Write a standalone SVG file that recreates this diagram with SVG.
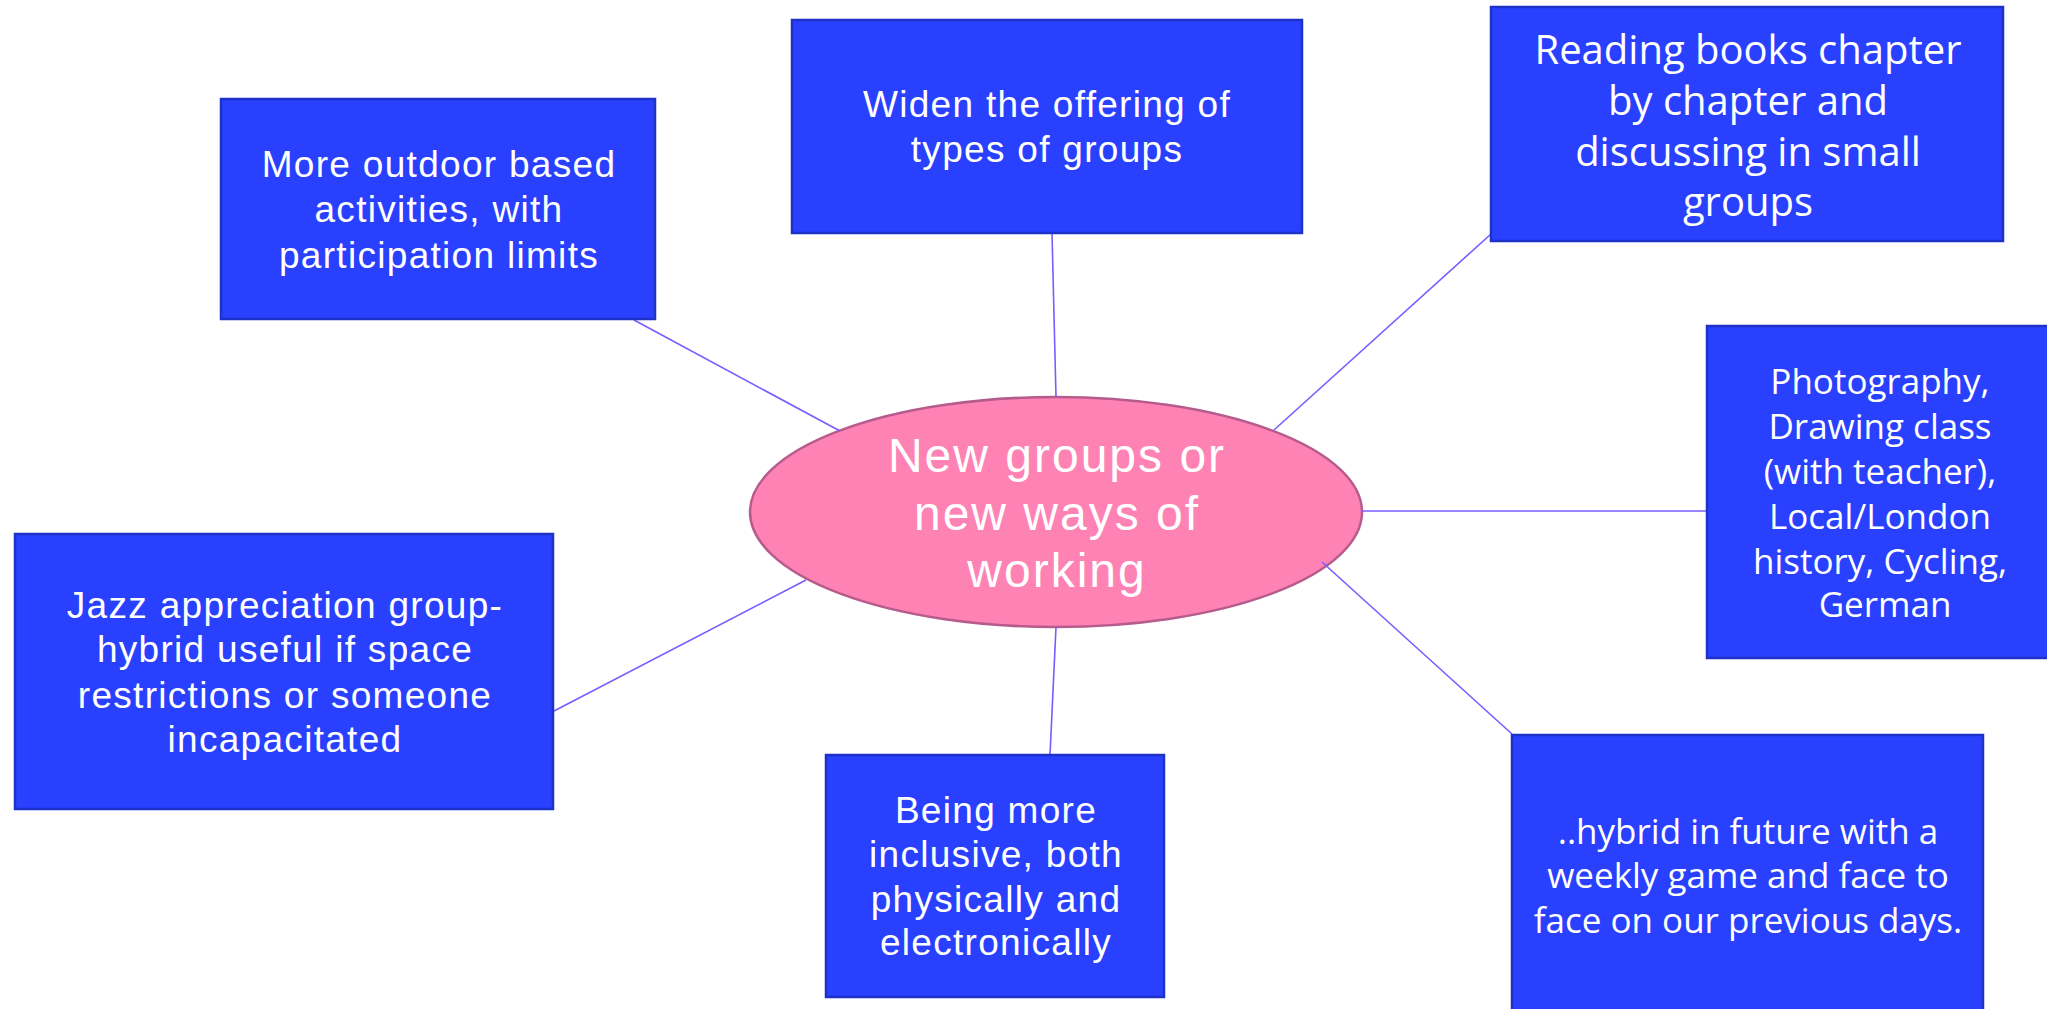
<svg xmlns="http://www.w3.org/2000/svg" width="2047" height="1009" viewBox="0 0 2047 1009">
<style>
.box{fill:#2940FF;stroke:#1F32C8;stroke-width:2.5}
.hub{fill:#FF82B4;stroke:#B65C8C;stroke-width:2.5}
.conn{stroke:#7A5CFF;stroke-width:1.6;fill:none}
.ta{font-family:"Liberation Sans",Arial,sans-serif;font-size:37px;letter-spacing:1.3px;fill:#FFFFFF;text-anchor:middle}
.tb{font-family:"Open Sans","Noto Sans",sans-serif;font-size:35px;fill:#FFFFFF;text-anchor:middle}
.hubt{font-family:"Liberation Sans",Arial,sans-serif;font-size:48px;letter-spacing:2px;fill:#FFFFFF;text-anchor:middle}
</style>
<rect width="2047" height="1009" fill="#FFFFFF"/>
<g id="hub">
<ellipse class="hub" cx="1056" cy="512" rx="306" ry="115"/>
<text class="hubt"><tspan x="1057" y="472">New groups or</tspan><tspan x="1057" y="530">new ways of</tspan><tspan x="1057" y="587">working</tspan></text>
</g>
<g id="connectors">
<line class="conn" x1="634" y1="320" x2="840" y2="431"/>
<line class="conn" x1="1052" y1="233" x2="1056" y2="397"/>
<line class="conn" x1="1491" y1="234" x2="1274" y2="430"/>
<line class="conn" x1="1362" y1="511" x2="1707" y2="511"/>
<line class="conn" x1="1322" y1="562" x2="1512" y2="734"/>
<line class="conn" x1="1056" y1="627" x2="1050" y2="755"/>
<line class="conn" x1="806" y1="580" x2="554" y2="711"/>
</g>
<g id="outdoor">
<rect class="box" x="221" y="99" width="434" height="220"/>
<text class="ta"><tspan x="439" y="177">More outdoor based</tspan><tspan x="439" y="222">activities, with</tspan><tspan x="439" y="268">participation limits</tspan></text>
</g>
<g id="widen">
<rect class="box" x="792" y="20" width="510" height="213"/>
<text class="ta"><tspan x="1047" y="117">Widen the offering of</tspan><tspan x="1047" y="162">types of groups</tspan></text>
</g>
<g id="reading">
<rect class="box" x="1491" y="7" width="512" height="234"/>
<text class="tb" style="font-size:40px"><tspan x="1748" y="64">Reading books chapter</tspan><tspan x="1748" y="115">by chapter and</tspan><tspan x="1748" y="166">discussing in small</tspan><tspan x="1748" y="216">groups</tspan></text>
</g>
<g id="photography">
<rect class="box" x="1707" y="326" width="350" height="332"/>
<text class="tb"><tspan x="1880" y="394">Photography,</tspan><tspan x="1880" y="439">Drawing class</tspan><tspan x="1880" y="484">(with teacher),</tspan><tspan x="1880" y="529">Local/London</tspan><tspan x="1880" y="574">history, Cycling,</tspan><tspan x="1885" y="617">German</tspan></text>
</g>
<g id="hybrid">
<rect class="box" x="1512" y="735" width="471" height="290"/>
<text class="tb"><tspan x="1748" y="844">..hybrid in future with a</tspan><tspan x="1748" y="888">weekly game and face to</tspan><tspan x="1748" y="933">face on our previous days.</tspan></text>
</g>
<g id="inclusive">
<rect class="box" x="826" y="755" width="338" height="242"/>
<text class="ta"><tspan x="996" y="823">Being more</tspan><tspan x="996" y="867">inclusive, both</tspan><tspan x="996" y="912">physically and</tspan><tspan x="996" y="955">electronically</tspan></text>
</g>
<g id="jazz">
<rect class="box" x="15" y="534" width="538" height="275"/>
<text class="ta"><tspan x="285" y="618">Jazz appreciation group-</tspan><tspan x="285" y="662">hybrid useful if space</tspan><tspan x="285" y="708">restrictions or someone</tspan><tspan x="285" y="752">incapacitated</tspan></text>
</g>
</svg>
